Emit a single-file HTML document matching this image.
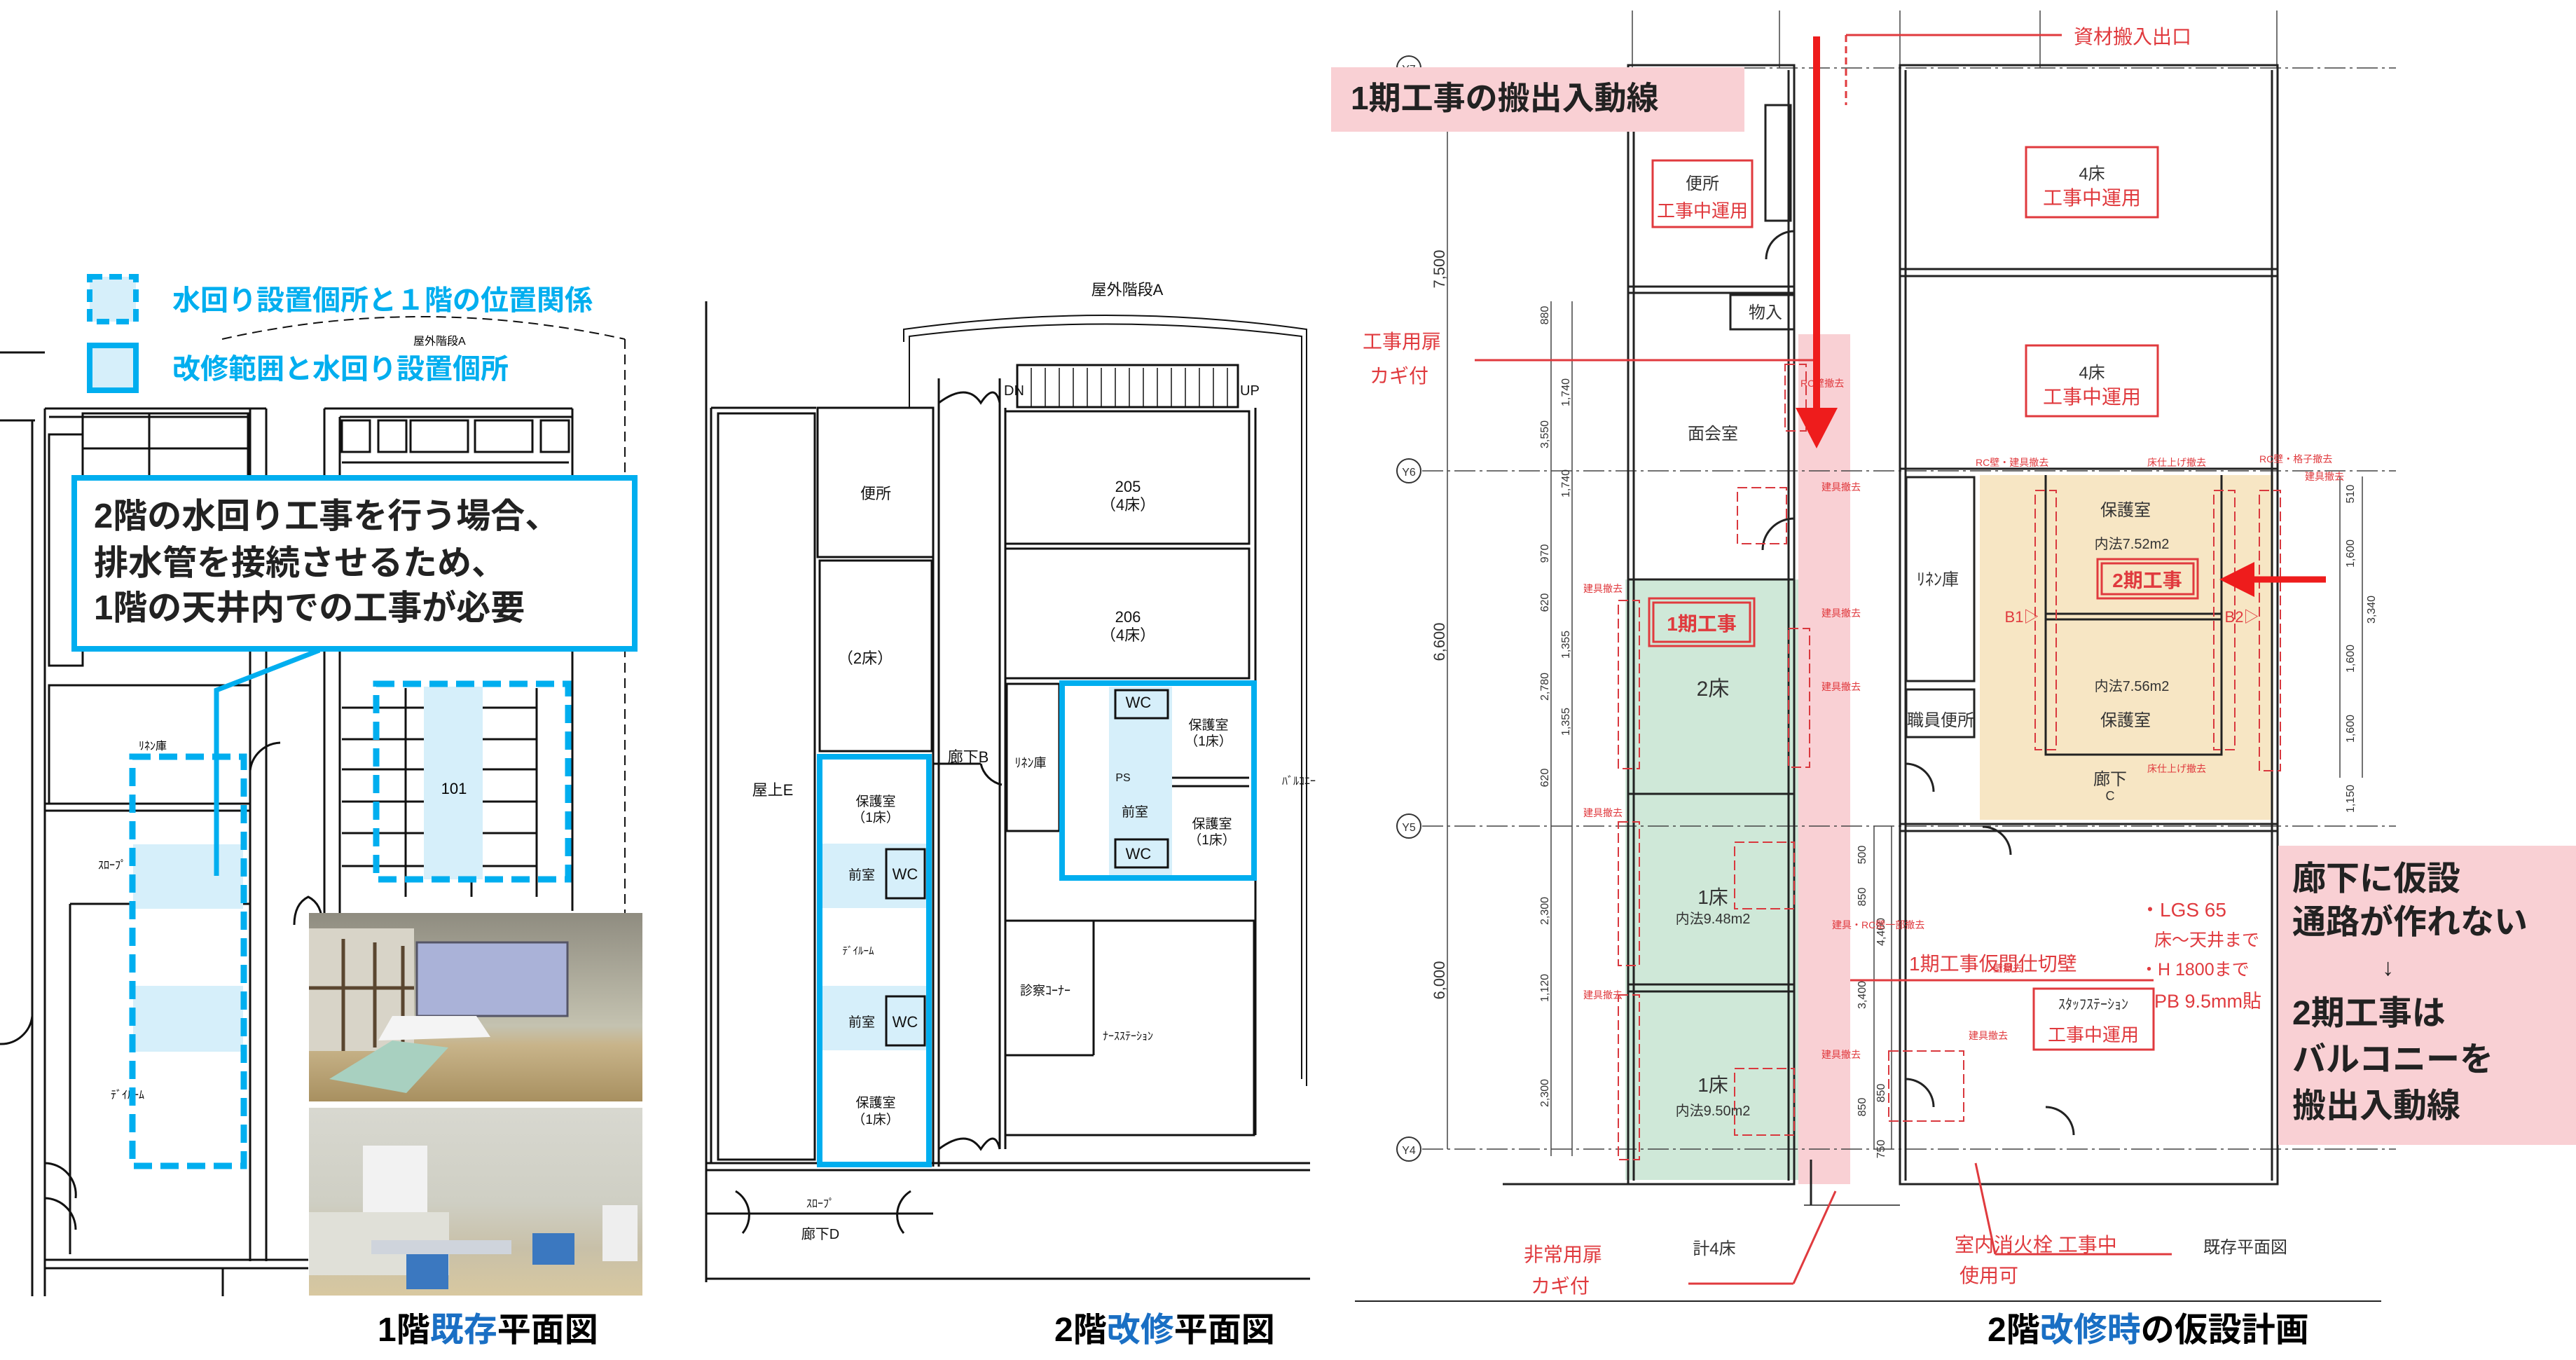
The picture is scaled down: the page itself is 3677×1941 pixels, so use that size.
<!DOCTYPE html>
<html><head><meta charset="utf-8"><style>
html,body{margin:0;padding:0;background:#fff;}
svg{display:block;}
text{font-family:"Liberation Sans","Noto Sans CJK JP",sans-serif;}
.b{font-weight:bold;}
</style></head><body>
<svg width="3677" height="1941" viewBox="0 0 3677 1941" xmlns="http://www.w3.org/2000/svg">
<rect width="3677" height="1941" fill="#fff"/>

<!-- ================= LEFT PANEL: 1F plan ================= -->
<g stroke="#111" stroke-width="3" fill="none">
  <path d="M317 484 Q600 420 892 484" stroke-dasharray="14 8" stroke-width="2"/>
  <line x1="892" y1="484" x2="892" y2="1310" stroke-dasharray="14 8" stroke-width="2"/>
  <line x1="0" y1="503" x2="64" y2="503"/><line x1="0" y1="600" x2="50" y2="600"/>
  <line x1="46" y1="600" x2="46" y2="1850"/><line x1="64" y1="583" x2="64" y2="1850"/>
  <line x1="64" y1="583" x2="380" y2="583"/><line x1="463" y1="583" x2="817" y2="583"/>
  <line x1="70" y1="595" x2="357" y2="595"/><line x1="485" y1="595" x2="817" y2="595"/>
  <rect x="118" y="590" width="236" height="230"/>
  <line x1="213" y1="590" x2="213" y2="820"/><line x1="118" y1="640" x2="354" y2="640"/>
  <line x1="357" y1="583" x2="357" y2="1800"/><line x1="380" y1="583" x2="380" y2="1800"/>
  <line x1="463" y1="583" x2="463" y2="1320"/><line x1="485" y1="595" x2="485" y2="1320"/>
  <rect x="70" y="620" width="48" height="330"/>
  <rect x="70" y="978" width="287" height="169"/>
  <line x1="64" y1="1147" x2="357" y2="1147"/><line x1="64" y1="1157" x2="357" y2="1157"/>
  <rect x="488" y="600" width="40" height="45"/><rect x="540" y="600" width="40" height="45"/><rect x="586" y="600" width="82" height="45"/><rect x="678" y="600" width="82" height="45"/><rect x="772" y="600" width="40" height="45"/>
  <line x1="488" y1="660" x2="812" y2="660"/>
  <line x1="817" y1="583" x2="817" y2="1300"/>
  <line x1="100" y1="1290" x2="357" y2="1290"/>
  <line x1="100" y1="1290" x2="100" y2="1790"/>
  <line x1="64" y1="1798" x2="440" y2="1798"/><line x1="64" y1="1810" x2="440" y2="1810"/>
  <line x1="318" y1="1810" x2="318" y2="1850"/>
  <path d="M46 1450 A45 45 0 0 1 0 1490"/><path d="M64 1660 A45 45 0 0 1 108 1710 M64 1710 A45 45 0 0 1 108 1755"/>
  <path d="M357 1100 A45 45 0 0 1 400 1060"/>
  <path d="M420 1320 Q420 1290 440 1280 Q460 1290 460 1320"/>
</g>
<g stroke="#111" stroke-width="3">
  <line x1="488" y1="1010" x2="766" y2="1010"/><line x1="488" y1="1055" x2="766" y2="1055"/>
  <line x1="488" y1="1098" x2="766" y2="1098"/><line x1="488" y1="1144" x2="766" y2="1144"/>
  <line x1="488" y1="1189" x2="766" y2="1189"/><line x1="488" y1="1236" x2="766" y2="1236"/>
  <line x1="579" y1="982" x2="579" y2="1280"/><line x1="673" y1="982" x2="673" y2="1280"/><line x1="766" y1="982" x2="766" y2="1280"/>
</g>
<text x="198" y="1070" font-size="16">ﾘﾈﾝ庫</text>
<text x="140" y="1240" font-size="16">ｽﾛｰﾌﾟ</text>
<text x="158" y="1568" font-size="16">ﾃﾞｲﾙｰﾑ</text>
<text x="590" y="492" font-size="16">屋外階段A</text>
<rect x="605" y="980" width="84" height="275" fill="#d6effa"/>
<rect x="190" y="1205" width="157" height="92" fill="#d6effa"/>
<rect x="190" y="1407" width="157" height="94" fill="#d6effa"/>
<text x="648" y="1133" font-size="22" text-anchor="middle">101</text>
<rect x="537" y="976" width="274" height="279" fill="none" stroke="#00aeef" stroke-width="9" stroke-dasharray="26 12"/>
<rect x="189" y="1080" width="159" height="584" fill="none" stroke="#00aeef" stroke-width="9" stroke-dasharray="26 12"/>
<rect x="128" y="395" width="66" height="64" fill="#d6effa" stroke="#00aeef" stroke-width="8" stroke-dasharray="18 10"/>
<rect x="128" y="493" width="66" height="64" fill="#d6effa" stroke="#00aeef" stroke-width="8"/>
<text x="246" y="442" font-size="40" class="b" fill="#00aeef">水回り設置個所と１階の位置関係</text>
<text x="246" y="540" font-size="40" class="b" fill="#00aeef">改修範囲と水回り設置個所</text>
<polyline points="456,928 309,985 309,1250" fill="none" stroke="#00aeef" stroke-width="7"/>
<rect x="106" y="682" width="800" height="244" fill="#fff" stroke="#00aeef" stroke-width="8"/>
<text x="134" y="753" font-size="49" class="b" fill="#222">2階の水回り工事を行う場合、</text>
<text x="134" y="820" font-size="49" class="b" fill="#222">排水管を接続させるため、</text>
<text x="134" y="884" font-size="49" class="b" fill="#222">1階の天井内での工事が必要</text>
<defs>
<linearGradient id="p1" x1="0" y1="0" x2="0" y2="1"><stop offset="0" stop-color="#8f8c80"/><stop offset="0.6" stop-color="#c4c2b0"/><stop offset="0.7" stop-color="#c8b48a"/><stop offset="1" stop-color="#a89060"/></linearGradient>
<linearGradient id="p2" x1="0" y1="0" x2="0" y2="1"><stop offset="0" stop-color="#d8d8d0"/><stop offset="0.5" stop-color="#cfcfc4"/><stop offset="0.75" stop-color="#c8c0a8"/><stop offset="1" stop-color="#d8c8a0"/></linearGradient>
</defs>
<rect x="441" y="1303" width="476" height="269" fill="url(#p1)"/>
<rect x="441" y="1325" width="150" height="175" fill="#d8d4c8"/>
<g stroke="#5a4630" stroke-width="5"><line x1="441" y1="1410" x2="591" y2="1410"/><line x1="490" y1="1340" x2="490" y2="1500"/><line x1="535" y1="1345" x2="535" y2="1495"/><line x1="575" y1="1350" x2="575" y2="1490"/></g>
<rect x="595" y="1345" width="215" height="105" fill="#aab2d8" stroke="#556" stroke-width="3"/>
<path d="M560 1450 L680 1450 L700 1480 L540 1485 Z" fill="#f4f4f4"/>
<path d="M470 1540 L560 1485 L640 1495 L580 1560 Z" fill="#a8d0c0"/>
<rect x="441" y="1581" width="476" height="268" fill="url(#p2)"/>
<rect x="518" y="1635" width="92" height="100" fill="#f2f2f2"/>
<rect x="441" y="1730" width="200" height="90" fill="#e0e0d8"/>
<rect x="530" y="1770" width="200" height="20" fill="#cfd4dc"/>
<rect x="580" y="1790" width="60" height="50" fill="#3b78c0"/>
<rect x="760" y="1760" width="60" height="45" fill="#3b78c0"/>
<rect x="860" y="1720" width="50" height="80" fill="#eeeeee"/>
<text x="539" y="1914" font-size="48" class="b">1階<tspan fill="#1a6fc4">既存</tspan>平面図</text>

<!-- ================= MIDDLE PANEL ================= -->
<g stroke="#111" stroke-width="3" fill="none">
  <path d="M1290 488 L1290 470 Q1580 430 1865 470 L1865 1550" stroke-width="2"/>
  <path d="M1298 582 L1298 480 Q1580 445 1858 480 L1858 1540" stroke-width="2"/>
  <line x1="1008" y1="430" x2="1008" y2="1830"/><line x1="1015" y1="582" x2="1015" y2="1660"/>
  <line x1="1015" y1="582" x2="1165" y2="582"/><rect x="1025" y="590" width="138" height="1065"/>
  <rect x="1167" y="582" width="165" height="213"/>
  <rect x="1170" y="800" width="160" height="272"/>
  <line x1="1332" y1="582" x2="1332" y2="1665"/><line x1="1340" y1="540" x2="1340" y2="1665"/>
  <line x1="1427" y1="540" x2="1427" y2="1640"/><line x1="1435" y1="582" x2="1435" y2="1640"/>
  <rect x="1452" y="521" width="315" height="60"/>
  <g stroke-width="1.5"><line x1="1472" y1="525" x2="1472" y2="580"/><line x1="1492" y1="525" x2="1492" y2="580"/><line x1="1512" y1="525" x2="1512" y2="580"/><line x1="1532" y1="525" x2="1532" y2="580"/><line x1="1552" y1="525" x2="1552" y2="580"/><line x1="1572" y1="525" x2="1572" y2="580"/><line x1="1592" y1="525" x2="1592" y2="580"/><line x1="1612" y1="525" x2="1612" y2="580"/><line x1="1632" y1="525" x2="1632" y2="580"/><line x1="1652" y1="525" x2="1652" y2="580"/><line x1="1672" y1="525" x2="1672" y2="580"/><line x1="1692" y1="525" x2="1692" y2="580"/><line x1="1712" y1="525" x2="1712" y2="580"/><line x1="1732" y1="525" x2="1732" y2="580"/><line x1="1752" y1="525" x2="1752" y2="580"/></g>
  <rect x="1435" y="587" width="348" height="189"/>
  <rect x="1435" y="783" width="348" height="185"/>
  <rect x="1437" y="976" width="75" height="210"/>
  <line x1="1792" y1="582" x2="1792" y2="1620"/>
  <rect x="1435" y="1314" width="355" height="306"/>
  <line x1="1561" y1="1314" x2="1561" y2="1506"/><line x1="1435" y1="1506" x2="1561" y2="1506"/>
  <line x1="1008" y1="1660" x2="1870" y2="1660"/><line x1="1008" y1="1670" x2="1870" y2="1670"/>
  <line x1="1008" y1="1732" x2="1332" y2="1732"/>
  <line x1="1008" y1="1825" x2="1870" y2="1825"/>
  <path d="M1340 575 Q1380 545 1400 575 Q1420 545 1427 575"/>
  <path d="M1340 1640 Q1380 1610 1400 1640 Q1420 1610 1427 1640"/>
  <path d="M1332 1090 L1400 1090 M1400 1090 A40 40 0 0 0 1430 1120"/>
  <path d="M1050 1700 A40 40 0 0 1 1060 1760 M1300 1700 A40 40 0 0 0 1290 1760"/>
</g>
<g font-size="22" text-anchor="middle" fill="#111">
  <text x="1250" y="712">便所</text>
  <text x="1235" y="947">（2床）</text>
  <text x="1610" y="702">205</text><text x="1610" y="728">（4床）</text>
  <text x="1610" y="888">206</text><text x="1610" y="914">（4床）</text>
  <text x="1103" y="1135">屋上E</text>
  <text x="1382" y="1088">廊下B</text>
  <text x="1471" y="1095" font-size="18">ﾘﾈﾝ庫</text>
  <text x="1878" y="1120" font-size="16" text-anchor="end">ﾊﾞﾙｺﾆｰ</text>
  <text x="1609" y="421">屋外階段A</text>
  <text x="1433" y="564" text-anchor="start" font-size="20">DN</text>
  <text x="1770" y="564" text-anchor="start" font-size="20">UP</text>
  <text x="1492" y="1420" font-size="18">診察ｺｰﾅｰ</text>
  <text x="1610" y="1484" font-size="16">ﾅｰｽｽﾃｰｼｮﾝ</text>
  <text x="1171" y="1723" font-size="16">ｽﾛｰﾌﾟ</text>
  <text x="1171" y="1768" font-size="20">廊下D</text>
</g>
<rect x="1170" y="1204" width="155" height="92" fill="#d6effa"/>
<rect x="1170" y="1407" width="155" height="92" fill="#d6effa"/>
<rect x="1583" y="980" width="90" height="272" fill="#d6effa"/>
<g stroke="#111" stroke-width="3" fill="none">
  <rect x="1265" y="1212" width="55" height="70"/><rect x="1265" y="1422" width="55" height="70"/>
  <rect x="1592" y="985" width="75" height="40"/><rect x="1592" y="1198" width="75" height="40"/>
  <line x1="1673" y1="1110" x2="1783" y2="1110"/><line x1="1673" y1="1122" x2="1783" y2="1122"/>
</g>
<g font-size="19" text-anchor="middle" fill="#111">
  <text x="1250" y="1150">保護室</text><text x="1250" y="1173">（1床）</text>
  <text x="1250" y="1580">保護室</text><text x="1250" y="1604">（1床）</text>
  <text x="1230" y="1255">前室</text><text x="1230" y="1465">前室</text>
  <text x="1292" y="1255" font-size="22">WC</text><text x="1292" y="1466" font-size="22">WC</text>
  <text x="1225" y="1362" font-size="15">ﾃﾞｲﾙｰﾑ</text>
  <text x="1625" y="1010" font-size="22">WC</text><text x="1625" y="1226" font-size="22">WC</text>
  <text x="1725" y="1041">保護室</text><text x="1725" y="1064">（1床）</text>
  <text x="1730" y="1182">保護室</text><text x="1730" y="1205">（1床）</text>
  <text x="1620" y="1165">前室</text>
  <text x="1603" y="1115" font-size="16">PS</text>
</g>
<rect x="1170" y="1080" width="156" height="582" fill="none" stroke="#00aeef" stroke-width="8"/>
<rect x="1516" y="975" width="274" height="278" fill="none" stroke="#00aeef" stroke-width="8"/>
<text x="1505" y="1914" font-size="48" class="b">2階<tspan fill="#1a6fc4">改修</tspan>平面図</text>

<!-- ================= RIGHT PANEL ================= -->
<rect x="2320" y="827" width="247" height="857" fill="#cfe8d8"/>
<rect x="2567" y="477" width="74" height="1213" fill="#f9d0d4"/>
<rect x="2826" y="678" width="419" height="492" fill="#f7e6c4"/>
<g stroke="#444" stroke-width="1.5" fill="none">
  <line x1="2030" y1="97" x2="3420" y2="97" stroke-dasharray="30 6 4 6"/>
  <line x1="2030" y1="672" x2="3420" y2="672" stroke-dasharray="30 6 4 6"/>
  <line x1="2030" y1="1179" x2="3420" y2="1179" stroke-dasharray="30 6 4 6"/>
  <line x1="2030" y1="1640" x2="3420" y2="1640" stroke-dasharray="30 6 4 6"/>
  <line x1="2066" y1="97" x2="2066" y2="1640"/>
  <line x1="2214" y1="430" x2="2214" y2="1650"/><line x1="2244" y1="430" x2="2244" y2="1650"/>
  <line x1="3340" y1="680" x2="3340" y2="1110"/><line x1="3372" y1="680" x2="3372" y2="1110"/>
  <line x1="2700" y1="1179" x2="2700" y2="1640"/><line x1="2675" y1="1179" x2="2675" y2="1640"/>
  <line x1="2330" y1="15" x2="2330" y2="97"/><line x1="2540" y1="15" x2="2540" y2="97"/><line x1="2712" y1="15" x2="2712" y2="97"/><line x1="2912" y1="15" x2="2912" y2="97"/><line x1="3250" y1="15" x2="3250" y2="97"/>
</g>
<g font-size="22" fill="#333" text-anchor="middle">
  <circle cx="2011" cy="97" r="17" fill="#fff" stroke="#333" stroke-width="2"/><text x="2011" y="104" font-size="16">Y7</text>
  <circle cx="2011" cy="672" r="17" fill="#fff" stroke="#333" stroke-width="2"/><text x="2011" y="679" font-size="16">Y6</text>
  <circle cx="2011" cy="1179" r="17" fill="#fff" stroke="#333" stroke-width="2"/><text x="2011" y="1186" font-size="16">Y5</text>
  <circle cx="2011" cy="1640" r="17" fill="#fff" stroke="#333" stroke-width="2"/><text x="2011" y="1647" font-size="16">Y4</text>
  <text transform="translate(2062,384) rotate(-90)">7,500</text>
  <text transform="translate(2062,916) rotate(-90)">6,600</text>
  <text transform="translate(2062,1399) rotate(-90)">6,000</text>
  <g font-size="16">
  <text transform="translate(2210,450) rotate(-90)">880</text><text transform="translate(2210,620) rotate(-90)">3,550</text>
  <text transform="translate(2240,560) rotate(-90)">1,740</text><text transform="translate(2240,690) rotate(-90)">1,740</text>
  <text transform="translate(2210,790) rotate(-90)">970</text><text transform="translate(2210,860) rotate(-90)">620</text>
  <text transform="translate(2210,980) rotate(-90)">2,780</text><text transform="translate(2240,920) rotate(-90)">1,355</text>
  <text transform="translate(2240,1030) rotate(-90)">1,355</text><text transform="translate(2210,1110) rotate(-90)">620</text>
  <text transform="translate(2210,1300) rotate(-90)">2,300</text><text transform="translate(2210,1410) rotate(-90)">1,120</text>
  <text transform="translate(2210,1560) rotate(-90)">2,300</text>
  <text transform="translate(2663,1220) rotate(-90)">500</text><text transform="translate(2663,1280) rotate(-90)">850</text>
  <text transform="translate(2663,1420) rotate(-90)">3,400</text><text transform="translate(2663,1580) rotate(-90)">850</text>
  <text transform="translate(2690,1330) rotate(-90)">4,400</text>
  <text transform="translate(2690,1560) rotate(-90)">850</text><text transform="translate(2690,1640) rotate(-90)">750</text>
  <text transform="translate(3360,705) rotate(-90)">510</text><text transform="translate(3360,790) rotate(-90)">1,600</text>
  <text transform="translate(3390,870) rotate(-90)">3,340</text><text transform="translate(3360,940) rotate(-90)">1,600</text>
  <text transform="translate(3360,1040) rotate(-90)">1,600</text><text transform="translate(3360,1140) rotate(-90)">1,150</text>
  </g>
</g>
<g stroke="#222" stroke-width="3" fill="none">
  <rect x="2324" y="93" width="237" height="1597"/>
  <line x1="2332" y1="100" x2="2332" y2="1685"/><line x1="2553" y1="100" x2="2553" y2="1685"/>
  <rect x="2520" y="150" width="36" height="165"/>
  <line x1="2324" y1="409" x2="2561" y2="409"/><line x1="2324" y1="418" x2="2561" y2="418"/>
  <rect x="2470" y="421" width="91" height="49"/>
  <line x1="2324" y1="827" x2="2561" y2="827"/>
  <line x1="2324" y1="1133" x2="2561" y2="1133"/>
  <line x1="2324" y1="1405" x2="2561" y2="1405"/><line x1="2324" y1="1415" x2="2561" y2="1415"/>
  <rect x="2712" y="93" width="539" height="1597"/>
  <line x1="2720" y1="100" x2="2720" y2="1685"/><line x1="3243" y1="100" x2="3243" y2="1685"/>
  <line x1="2712" y1="384" x2="3251" y2="384"/><line x1="2712" y1="394" x2="3251" y2="394"/>
  <line x1="2712" y1="669" x2="3251" y2="669"/>
  <line x1="2712" y1="1176" x2="3251" y2="1176"/><line x1="2712" y1="1186" x2="3251" y2="1186"/>
  <rect x="2721" y="681" width="97" height="291"/>
  <rect x="2721" y="984" width="97" height="68"/>
  <path d="M2920 678 L2920 1077 L3171 1077 L3171 678"/>
  <line x1="2920" y1="876" x2="3171" y2="876"/><line x1="2920" y1="884" x2="3171" y2="884"/>
  <line x1="2145" y1="1690" x2="2324" y2="1690"/>
  <line x1="2585" y1="1655" x2="2585" y2="1720"/><line x1="2575" y1="1720" x2="2712" y2="1720" stroke-width="1.5"/>
  <path d="M2561 330 A40 40 0 0 0 2521 370"/><path d="M2561 740 A45 45 0 0 0 2516 785"/>
  <path d="M2720 1090 A40 40 0 0 1 2760 1130"/><path d="M2720 1540 A40 40 0 0 1 2760 1580"/>
  <path d="M2830 1180 A40 40 0 0 1 2870 1220"/><path d="M2920 1580 A40 40 0 0 1 2960 1620"/>
</g>
<line x1="1934" y1="1857" x2="3399" y2="1857" stroke="#222" stroke-width="2"/>
<g stroke="#d9383e" stroke-width="2" fill="none" stroke-dasharray="14 6">
  <rect x="2480" y="696" width="70" height="80"/><rect x="2548" y="520" width="30" height="95"/>
  <rect x="2553" y="897" width="30" height="198"/><rect x="2476" y="1202" width="85" height="95"/>
  <rect x="2476" y="1525" width="85" height="95"/><rect x="2310" y="857" width="30" height="240"/>
  <rect x="2310" y="1173" width="30" height="205"/><rect x="2310" y="1420" width="30" height="235"/>
  <rect x="2696" y="1500" width="107" height="100"/>
  <rect x="2905" y="700" width="30" height="370"/><rect x="3160" y="700" width="30" height="370"/><rect x="3225" y="700" width="30" height="400"/>
</g>
<g fill="none" stroke="#e03a3e" stroke-width="3">
  <rect x="2359" y="229" width="142" height="95"/>
  <rect x="2892" y="210" width="188" height="100"/>
  <rect x="2892" y="493" width="188" height="101"/>
  <rect x="2354" y="854" width="150" height="68"/><rect x="2360" y="860" width="138" height="56"/>
  <rect x="2994" y="798" width="143" height="56"/><rect x="3000" y="804" width="131" height="44"/>
  <rect x="2903" y="1411" width="171" height="87"/>
  <line x1="2635" y1="50" x2="2943" y2="50"/><line x1="2635" y1="50" x2="2635" y2="150" stroke-dasharray="10 6"/>
  <line x1="2105" y1="514" x2="2590" y2="514"/>
  <line x1="2641" y1="1399" x2="3074" y2="1399"/>
  <line x1="2410" y1="1832" x2="2560" y2="1832"/><line x1="2560" y1="1832" x2="2620" y2="1700"/>
  <line x1="2848" y1="1790" x2="3100" y2="1790"/><line x1="2848" y1="1790" x2="2820" y2="1660"/>
</g>
<g fill="#e03a3e" font-size="28">
  <text x="2960" y="62">資材搬入出口</text>
  <text x="1945" y="497">工事用扉</text><text x="1955" y="546">カギ付</text>
  <text x="2175" y="1800">非常用扉</text><text x="2185" y="1845">カギ付</text>
  <text x="2790" y="1786">室内消火栓 工事中</text><text x="2797" y="1830">使用可</text>
  <text x="2725" y="1385">1期工事仮間仕切壁</text>
  <text x="3055" y="1308" font-size="28">・LGS 65</text>
  <text x="3075" y="1350" font-size="25">床～天井まで</text>
  <text x="3055" y="1392" font-size="25">・H 1800まで</text>
  <text x="3075" y="1438" font-size="27">PB 9.5mm貼</text>
  <text x="2430" y="310" text-anchor="middle" font-size="26">工事中運用</text>
  <text x="2986" y="292" text-anchor="middle">工事中運用</text>
  <text x="2986" y="576" text-anchor="middle">工事中運用</text>
  <text x="2429" y="900" text-anchor="middle" class="b">1期工事</text>
  <text x="3065" y="838" text-anchor="middle" class="b">2期工事</text>
  <text x="2988" y="1486" text-anchor="middle" font-size="26">工事中運用</text>
  <text x="2886" y="888" font-size="22" text-anchor="middle">B1▷</text>
  <text x="3200" y="888" font-size="22" text-anchor="middle">B2▷</text>
  <g font-size="14"><text x="2260" y="845">建具撤去</text><text x="2260" y="1165">建具撤去</text><text x="2260" y="1425">建具撤去</text>
  <text x="2600" y="700">建具撤去</text><text x="2600" y="880">建具撤去</text><text x="2600" y="985">建具撤去</text>
  <text x="2600" y="1510">建具撤去</text><text x="2570" y="552">RC壁撤去</text><text x="2615" y="1325">建具・RC壁一部撤去</text>
  <text x="2820" y="665">RC壁・建具撤去</text><text x="3065" y="665">床仕上げ撤去</text><text x="3225" y="660">RC壁・格子撤去</text>
  <text x="3290" y="685">建具撤去</text><text x="3065" y="1102">床仕上げ撤去</text><text x="2810" y="1483">建具撤去</text><text x="2845" y="1387">壁撤去</text></g>
</g>
<g fill="#333" font-size="24" text-anchor="middle">
  <text x="2430" y="270">便所</text>
  <text x="2986" y="256">4床</text><text x="2986" y="540">4床</text>
  <text x="2520" y="454">物入</text>
  <text x="2445" y="627">面会室</text>
  <text x="2445" y="993" font-size="30">2床</text>
  <text x="2445" y="1290" font-size="28">1床</text><text x="2445" y="1318" font-size="20">内法9.48m2</text>
  <text x="2445" y="1558" font-size="28">1床</text><text x="2445" y="1592" font-size="20">内法9.50m2</text>
  <text x="2766" y="835">ﾘﾈﾝ庫</text><text x="2770" y="1036">職員便所</text>
  <text x="3034" y="736">保護室</text><text x="3043" y="783" font-size="20">内法7.52m2</text>
  <text x="3043" y="986" font-size="20">内法7.56m2</text><text x="3034" y="1036">保護室</text>
  <text x="3012" y="1120">廊下</text><text x="3012" y="1142" font-size="18">C</text>
  <text x="2988" y="1440" font-size="20">ｽﾀｯﾌｽﾃｰｼｮﾝ</text>
  <text x="2447" y="1790">計4床</text>
  <text x="3205" y="1788">既存平面図</text>
</g>
<line x1="2593" y1="52" x2="2593" y2="585" stroke="#ee1c1c" stroke-width="10"/>
<polygon points="2563,582 2623,582 2593,640" fill="#ee1c1c"/>
<line x1="3320" y1="827" x2="3215" y2="827" stroke="#ee1c1c" stroke-width="9"/>
<polygon points="3218,802 3218,852 3168,827" fill="#ee1c1c"/>
<rect x="1900" y="96" width="590" height="92" fill="#f9d0d4"/>
<text x="1928" y="156" font-size="46" class="b" fill="#222">1期工事の搬出入動線</text>
<rect x="3252" y="1207" width="425" height="427" fill="#f9d0d4"/>
<g font-size="48" class="b" fill="#222">
  <text x="3272" y="1270">廊下に仮設</text>
  <text x="3272" y="1332">通路が作れない</text>
  <text x="3400" y="1392" font-size="34" font-weight="normal">↓</text>
  <text x="3272" y="1462">2期工事は</text>
  <text x="3272" y="1528">バルコニーを</text>
  <text x="3272" y="1594">搬出入動線</text>
</g>
<text x="2837" y="1914" font-size="48" class="b">2階<tspan fill="#1a6fc4">改修時</tspan>の仮設計画</text>
</svg>
</body></html>
